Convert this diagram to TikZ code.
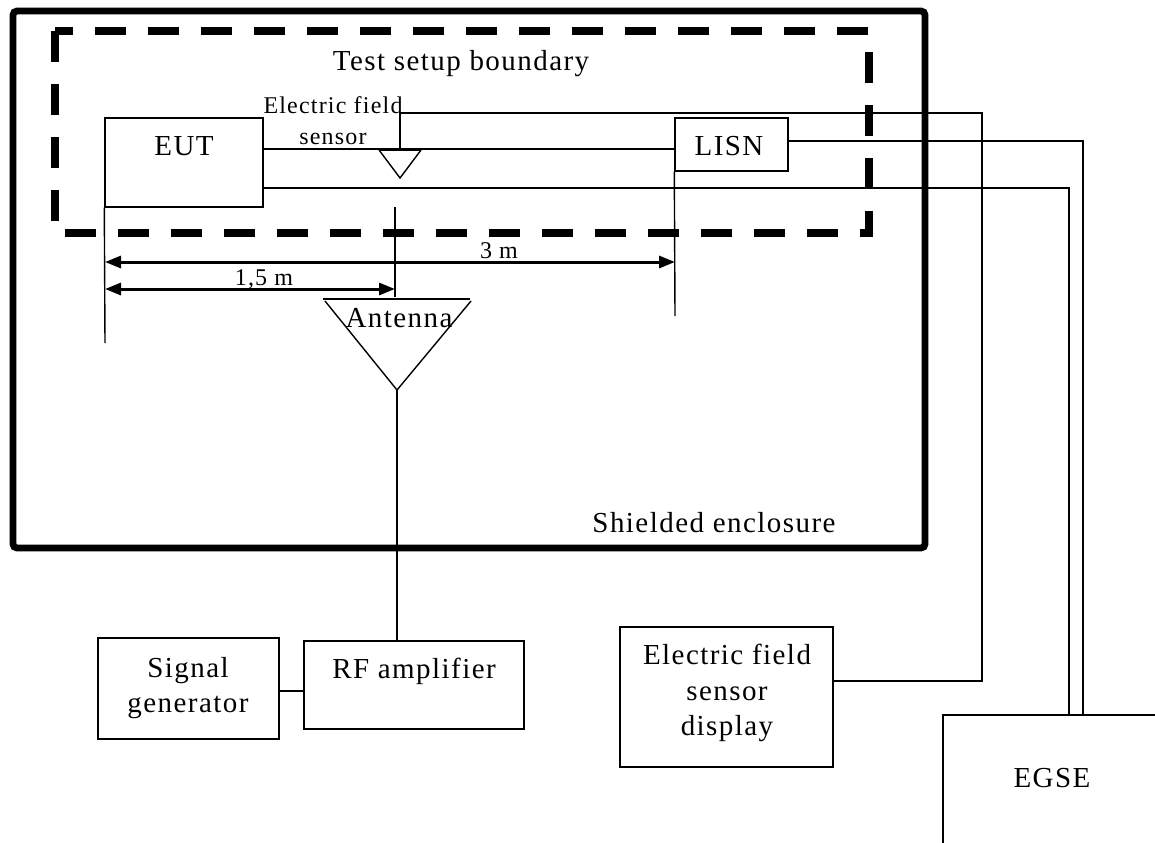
\documentclass[tikz,border=0pt]{standalone}
\usepackage{fontspec}
\setmainfont[LetterSpace=5]{Liberation Serif}
\usetikzlibrary{fit,arrows.meta}
\newcommand\bigtxt{\fontsize{14.5pt}{18pt}\selectfont}
\newcommand\smalltxt{\fontsize{12pt}{15pt}\selectfont}
\tikzset{
  box/.style={draw, line width=0.7pt, inner sep=0pt},
  wire/.style={line width=0.7pt},
  txt/.style={inner sep=0pt, anchor=base, font=\bigtxt},
  stxt/.style={inner sep=0pt, anchor=base, font=\smalltxt},
  dimline/.style={line width=1.5pt, {Triangle[length=8pt,width=6pt]}-{Triangle[length=8pt,width=6pt]}},
}
\begin{document}
\begin{tikzpicture}[x=0.5pt,y=-0.5pt]
\useasboundingbox (0,0) rectangle (1155,842);
% shielded enclosure and test setup boundary
\draw[line width=3.4pt, rounded corners=2pt] (13,11) rectangle (925,548);
\draw[line width=3.8pt, dash pattern=on 15.5pt off 11pt] (55,31) rectangle (869,233);
\node[txt] (tsb) at (461,70) {Test setup boundary};
\node[txt] (shl) at (714,532) {Shielded enclosure};
% boxes
\node[box, fit={(105,118) (263,207)}] (eut) {};
\node[txt] (eutt) at (184,155) {EUT};
\node[box, fit={(675,118) (788,171)}] (lisn) {};
\node[txt] (lisnt) at (729,155) {LISN};
\node[box, fit={(98,638) (279,739)}] (sig) {};
\node[txt] (sig1) at (188,677) {Signal};
\node[txt] (sig2) at (188,712) {generator};
\node[box, fit={(304,641) (524,729)}] (rf) {};
\node[txt] (rft) at (414,678) {RF amplifier};
\node[box, fit={(620,627) (833,767)}] (disp) {};
\node[txt] (disp1) at (727,664) {Electric field};
\node[txt] (disp2) at (727,700) {sensor};
\node[txt] (disp3) at (727,735) {display};
\node[box, fit={(943,715) (1200,900)}] (egse) {};
\node[txt] (egset) at (1052,787) {EGSE};
% electric field sensor
\coordinate (sensor) at (400,149);
\draw[wire] (379,150) -- (400,178) -- (421,150);
\draw[line width=1.4pt] (379,150) -- (421,150);
\node[stxt] (efs1) at (333,113) {Electric field};
\node[stxt] (efs2) at (333,144) {sensor};
% antenna
\coordinate (antapex) at (397,390);
\draw[wire] (323,299) -- (470,299);
\draw[wire] (325,301) -- (antapex) -- (471,301);
\node[txt] (antt) at (399,327) {Antenna};
% connectors
\draw[wire] (eut.east |- 0,149) -- (lisn.west |- 0,149);
\draw[wire] (sensor) |- (982,113) -- (982,681) -- (disp.east |- 0,681);
\draw[wire] (eut.east |- 0,188) -| (1069,0 |- egse.north);
\draw[wire] (lisn.east |- 0,141) -| (1083,0 |- egse.north);
\draw[wire] (antapex) -- (antapex |- rf.north);
\draw[wire] (sig.east |- 0,691) -- (rf.west |- 0,691);
% reference lines and distances
\coordinate (eutref) at (105,343);
\coordinate (lisnref) at (675,316);
\coordinate (antref1) at (395,207);
\coordinate (antref2) at (395,297);
\draw[wire] (eut.south west) -- (eutref);
\draw[wire] (lisn.south west) -- (lisnref);
\draw[wire] (antref1) -- (antref2);
\draw[dimline] (eutref |- 0,262) -- (lisnref |- 0,262);
\draw[dimline] (eutref |- 0,289) -- (antref1 |- 0,289);
\node[stxt] (d3) at (499,258) {3 m};
\node[stxt] (d15) at (264,285) {1,5 m};
\end{tikzpicture}
\end{document}
